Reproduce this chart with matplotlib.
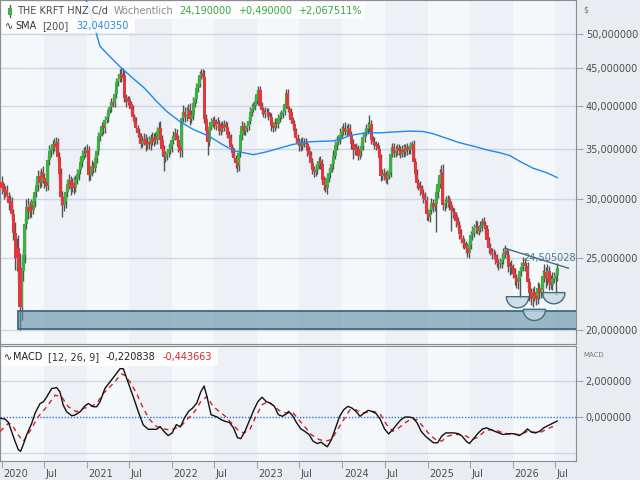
import numpy as np
import matplotlib
matplotlib.use("Agg")
import matplotlib.pyplot as plt
from matplotlib.patches import Rectangle, Wedge
import matplotlib.transforms as mtrans

plt.rcParams['font.family'] = ['DejaVu Sans']

# ---------------- data ----------------
start_date = '2020-01-03'          # date of first weekly candle (week index 0)
first_open = 31.6
closes = [
    31.0, 30.6, 30.8, 30.3, 29.6, 29.8, 28.6, 27.0, 25.0, 25.8,
    24.2, 21.5, 24.0, 25.2, 27.8, 29.3, 28.8, 29.4, 29.0, 29.8,
    30.6, 31.3, 32.2, 31.5, 32.6, 32.0, 31.6, 31.2, 33.8, 34.8,
    35.0, 35.6, 35.2, 35.8, 34.2, 32.4, 30.2, 29.4, 29.8, 30.6,
    31.4, 31.8, 31.0, 31.5, 31.0, 31.9, 32.4, 32.8, 33.6, 34.3,
    34.8, 34.6, 34.9, 32.3, 32.6, 33.2, 33.0, 34.0, 34.8, 36.4,
    36.8, 37.6, 37.3, 38.3, 38.6, 39.5, 39.8, 40.5, 40.3, 41.5,
    43.0, 43.5, 44.2, 43.6, 44.0, 41.0, 40.5, 40.8, 40.2, 39.6,
    38.6, 38.2, 37.3, 36.8, 36.4, 35.6, 35.9, 36.1, 35.4, 35.8,
    35.5, 36.2, 35.8, 36.3, 36.0, 37.0, 37.4, 36.0, 35.0, 34.2,
    34.3, 34.6, 35.0, 35.3, 36.0, 36.4, 36.8, 36.0, 35.2, 34.8,
    38.5, 39.2, 38.8, 39.0, 39.5, 38.4, 38.9, 40.3, 40.8, 42.3,
    42.8, 44.0, 44.3, 43.8, 38.4, 37.0, 35.8, 37.5, 38.0, 38.3,
    37.6, 38.0, 37.8, 37.0, 37.6, 37.4, 37.8, 37.5, 36.6, 36.2,
    35.2, 34.6, 34.0, 33.5, 33.2, 34.6, 36.5, 37.6, 37.0, 37.3,
    37.6, 38.2, 39.3, 39.6, 40.0, 40.6, 41.5, 42.0, 40.0, 39.5,
    39.0, 39.3, 39.2, 38.8, 38.6, 37.6, 37.4, 38.0, 37.8, 38.5,
    38.8, 39.0, 39.3, 40.2, 41.6, 39.6, 39.2, 38.3, 37.8, 37.0,
    36.2, 35.8, 35.6, 35.3, 35.8, 35.7, 35.5, 34.8, 34.4, 33.5,
    32.8, 32.6, 32.9, 33.3, 33.7, 33.4, 31.8, 31.3, 31.0, 32.0,
    32.5, 33.0, 33.4, 34.3, 35.4, 35.8, 36.0, 36.6, 37.0, 37.4,
    36.9, 37.2, 37.3, 36.6, 35.6, 34.9, 35.2, 35.0, 34.3, 34.8,
    35.3, 36.3, 36.8, 37.2, 37.3, 37.8, 36.0, 35.8, 35.5, 35.3,
    35.0, 34.0, 32.2, 32.5, 32.3, 31.9, 32.3, 32.6, 34.5, 35.2,
    34.6, 34.9, 35.1, 34.8, 34.5, 35.0, 34.7, 35.2, 34.9, 35.0,
    35.3, 35.5, 33.6, 32.4, 31.5, 31.2, 30.9, 30.5, 30.1, 29.9,
    28.6, 28.4, 29.0, 29.6, 29.3, 29.5, 30.6, 31.4, 32.3, 32.6,
    29.4, 29.6, 29.8, 30.0, 29.4, 29.0, 28.8, 28.5, 28.0, 27.7,
    26.9, 26.5, 26.2, 26.0, 25.8, 25.4, 26.0, 26.8, 27.0, 27.4,
    27.6, 27.2, 27.4, 27.6, 28.0, 27.7, 27.3, 26.4, 25.8, 25.5,
    25.3, 25.2, 24.9, 24.6, 24.5, 24.6, 24.8, 25.4, 25.5, 25.2,
    24.3, 24.4, 24.2, 23.8, 23.5, 23.2, 23.4, 24.0, 24.3, 24.6,
    24.4, 24.3, 23.2, 22.4, 22.0, 22.5, 22.2, 22.0, 22.8, 22.4,
    22.6, 23.6, 23.9, 23.4, 24.0, 23.1, 23.0, 23.4, 23.5, 23.70, 24.19,
]
wick_up = [
    0.6,0.5,0.4,0.5,0.3,0.6,0.4,0.5,0.9,0.8, 1.0,1.2,0.8,0.6,0.5,0.7,0.8,0.4,0.6,0.5,
    0.4,0.5,0.6,0.5,0.4,0.6,0.5,0.4,0.5,0.6, 0.5,0.4,0.6,0.5,0.4,0.5,0.6,0.5,0.7,0.4,
    0.5,0.6,0.4,0.5,0.6,0.4,0.5,0.4,0.5,0.6, 0.4,0.5,0.6,0.4,0.5,0.6,0.4,0.5,0.6,0.5,
    0.6,0.5,0.7,0.5,0.6,0.4,0.7,0.5,0.6,0.5, 0.6,0.7,0.6,0.8,1.0,0.6,0.5,0.4,0.5,0.4,
    0.5,0.4,0.5,0.4,0.6,0.4,0.5,0.7,0.6,0.5, 0.6,0.5,0.7,0.5,0.6,0.5,0.6,0.8,0.5,0.4,
    0.5,0.4,0.6,0.5,0.4,0.6,0.5,0.4,0.5,0.6, 0.7,0.9,0.6,0.8,0.7,0.9,0.6,0.8,0.7,0.6,
    0.8,0.6,0.5,0.5,0.9,0.6,0.5,0.6,0.5,0.4, 0.5,0.4,0.6,0.5,0.4,0.6,0.5,0.4,0.5,0.4,
    0.5,0.4,0.5,0.4,0.5,0.6,0.5,0.6,0.5,0.4, 0.5,0.6,0.5,0.6,0.5,0.6,0.5,0.5,0.6,0.5,
    0.4,0.5,0.4,0.5,0.4,0.5,0.4,0.5,0.4,0.5, 0.4,0.5,0.6,0.5,0.6,0.5,0.4,0.5,0.4,0.5,
    0.4,0.5,0.4,0.6,0.5,0.4,0.5,0.4,0.5,0.4, 0.5,0.4,0.5,0.4,0.5,0.6,0.5,0.4,0.5,0.4,
    0.5,0.4,0.5,0.6,0.5,0.6,0.5,0.7,0.6,0.5, 0.6,0.5,0.6,0.5,0.4,0.5,0.4,0.5,0.4,0.5,
    0.5,0.6,0.5,0.6,0.8,1.1,0.5,0.4,0.5,0.4, 0.5,0.4,0.5,0.4,0.5,0.4,0.5,0.4,0.6,0.5,
    0.5,0.4,0.5,0.4,0.5,0.4,0.5,0.4,0.5,0.4, 0.5,0.4,0.5,0.4,0.5,0.4,0.5,0.4,0.4,0.5,
    0.4,0.5,0.4,0.5,0.4,0.5,0.5,0.6,0.6,0.7, 0.8,0.4,0.5,0.4,0.3,0.4,0.3,0.4,0.3,0.4,
    0.3,0.4,0.3,0.4,0.3,0.4,0.5,0.4,0.6,0.4, 0.5,0.4,0.3,0.4,0.3,0.4,0.3,0.4,0.3,0.4,
    0.3,0.4,0.3,0.4,0.3,0.4,0.5,0.4,0.5,0.3, 0.4,0.3,0.4,0.3,0.4,0.3,0.4,0.3,0.4,0.5,
    0.4,0.3,0.4,0.3,0.4,0.3,0.4,0.3,0.4,0.3, 0.4,0.5,0.6,0.4,0.5,0.4,0.6,0.5,0.4,0.5,0.4,
]
wick_dn = [
    0.5,0.6,0.4,0.5,0.6,0.4,0.5,0.6,0.9,1.0, 1.1,1.5,0.9,0.7,0.6,0.5,0.6,0.5,0.6,0.4,
    0.5,0.4,0.6,0.5,0.4,0.5,0.6,0.5,0.4,0.5, 0.6,0.5,0.4,0.5,0.6,0.7,0.8,1.0,0.5,0.6,
    0.4,0.5,0.6,0.4,0.5,0.4,0.5,0.6,0.4,0.5, 0.4,0.5,0.4,0.6,0.5,0.4,0.5,0.4,0.5,0.4,
    0.5,0.4,0.6,0.5,0.4,0.5,0.4,0.6,0.5,0.4, 0.5,0.4,0.5,0.6,0.4,0.5,0.6,0.4,0.5,0.6,
    0.4,0.5,0.4,0.5,0.6,0.5,0.4,0.5,0.6,0.4, 0.5,0.6,0.4,0.5,0.4,0.5,0.4,0.5,0.6,1.5,
    0.6,0.5,0.4,0.5,0.6,0.5,0.4,0.6,0.5,0.7, 0.6,0.5,0.8,0.6,0.5,0.7,0.5,0.6,0.5,0.4,
    0.5,0.4,0.5,0.4,0.5,0.6,1.4,0.5,0.4,0.5, 0.4,0.5,0.4,0.5,0.4,0.5,0.4,0.5,0.4,0.5,
    0.4,0.5,0.4,0.5,0.6,0.5,0.4,0.5,0.4,0.5, 0.4,0.5,0.4,0.5,0.4,0.5,0.4,0.5,0.4,0.5,
    0.4,0.5,0.4,0.5,0.4,0.6,0.5,0.4,0.5,0.4, 0.5,0.4,0.5,0.4,0.5,0.4,0.5,0.4,0.5,0.4,
    0.5,0.4,0.8,0.5,0.4,0.5,0.4,0.5,0.4,0.5, 0.4,0.5,0.4,0.5,0.4,0.5,0.4,0.5,0.4,0.5,
    0.4,0.5,0.4,0.5,0.4,0.5,0.4,0.5,0.4,0.5, 0.4,0.5,0.4,0.5,0.6,1.0,0.5,0.4,0.5,0.4,
    0.5,0.4,0.5,0.4,0.5,0.4,0.5,0.4,0.5,0.4, 0.5,0.4,0.5,0.4,0.5,0.4,0.5,0.4,0.5,0.4,
    0.5,0.4,0.5,0.4,0.5,0.4,0.5,0.4,0.5,0.4, 0.5,0.4,0.5,0.4,0.5,0.4,0.5,0.4,0.5,0.4,
    0.5,0.4,0.5,0.4,0.5,0.4,2.4,0.5,0.4,0.5, 0.4,0.5,0.4,0.5,0.4,1.8,0.5,0.4,0.5,0.4,
    0.4,0.3,0.4,0.3,0.4,0.3,0.4,0.3,0.4,0.3, 0.4,0.3,0.4,0.3,0.4,0.3,0.4,0.3,0.4,0.3,
    0.4,0.3,0.4,0.3,0.4,0.3,0.4,0.3,0.4,0.3, 0.4,0.6,0.4,0.3,0.5,0.4,0.5,1.3,0.4,0.3,
    0.4,0.3,0.4,0.5,0.4,0.5,0.3,0.4,0.3,0.4, 0.3,0.5,0.4,0.6,0.4,0.5,0.3,0.4,0.3,1.2,0.4,
]

sma_wk = [51, 56, 60, 66, 73, 80, 87, 95, 101, 109, 117, 127, 134, 142, 148, 154, 162, 170,
          178, 189, 203, 209, 213, 223, 232, 240, 250, 258, 264, 272, 280, 289, 297, 305,
          311, 317, 325, 334, 340]
sma_val = [56.0, 51.6, 48.1, 46.6, 45.0, 43.6, 42.3, 40.5, 39.3, 38.1, 37.2, 36.4, 35.6,
           34.8, 34.6, 34.4, 34.7, 35.1, 35.5, 35.8, 35.9, 36.2, 36.5, 36.8, 36.8, 36.9,
           37.0, 36.95, 36.7, 36.2, 35.7, 35.3, 34.9, 34.6, 34.3, 33.7, 33.0, 32.5, 32.04]

macd_wk = [-1.2, 1.8, 3.9, 5.9, 8, 10, 11.4, 13, 15.1, 18.2, 20.2, 23.3, 25.3, 27.4, 30.4,
           33.5, 35.5, 37.5, 39.6, 42.7, 44.7, 47.8, 50.8, 52.9, 55.9, 58, 60, 63, 66.1,
           69.2, 72.3, 74.3, 76.4, 80.4, 83.5, 86.5, 89.6, 94.7, 96.8, 99.25, 101.75,
           104.25, 106.75, 109.25, 111.75, 114.25, 116.75, 119.25, 121.75, 123.75, 125.5,
           128, 131.75, 134.25, 136.75, 139.25, 141.75, 144.25, 146.25, 148.75, 151.75,
           154.25, 156.75, 159.25, 161.75, 164.25, 166.75, 169.25, 171.75, 174.25, 175.5,
           178, 180.5, 183, 185.5, 188, 190.5, 193, 195.5, 198, 199.25, 201.75, 204.25,
           206.75, 209.25, 211.75, 214.25, 216.75, 219.25, 221.75, 224.25, 226.75, 229.25,
           231.75, 234.25, 236.75, 239.25, 241.75, 244.25, 246.75, 249.25, 251.75, 254.25,
           256.75, 259.25, 261.75, 264.25, 266.75, 269.25, 271.75, 274.25, 276.75, 279.25,
           281.75, 284.25, 286.25, 289.25, 291.75, 294.25, 296.75, 299.25, 301.75, 304.25,
           306.75, 309.25, 311.75, 314.25, 316.75, 319.25, 321.75, 324.25, 326.75, 329.25,
           331.75, 334.25, 336.75, 340]
macd_val = [-0.07, -0.11, -0.29, -0.8, -1.35, -1.81, -1.9, -1.54, -0.99, -0.35, 0.2, 0.75,
            0.84, 1.12, 1.58, 1.63, 1.39, 0.66, 0.29, 0.07, 0.11, 0.29, 0.62, 0.75, 0.57,
            0.57, 0.84, 1.58, 1.94, 2.31, 2.68, 2.68, 2.13, 1.12, 0.29, -0.44, -0.68, -0.68,
            -0.53, -0.8, -1.03, -0.88, -0.42, -0.55, -0.05, 0.31, 0.5, 0.77, 1.4, 1.72, 1.14,
            0.13, 0.0, -0.15, -0.24, -0.3, -0.6, -1.15, -1.2, -0.8, -0.15, 0.4, 0.86, 1.1,
            0.86, 0.77, 0.6, 0.13, 0.04, 0.18, 0.31, 0.07, -0.33, -0.66, -0.8, -0.97, -1.34,
            -1.47, -1.4, -1.58, -1.65, -1.25, -0.6, 0.04, 0.4, 0.59, 0.5, 0.31, 0.04, 0.22,
            0.37, 0.31, 0.18, -0.15, -0.66, -0.94, -0.7, -0.42, -0.15, 0.0, 0.0, -0.05, -0.33,
            -0.8, -1.06, -1.25, -1.43, -1.43, -1.06, -0.88, -0.88, -0.88, -0.92, -1.06, -1.34,
            -1.47, -1.15, -0.88, -0.66, -0.6, -0.7, -0.79, -0.88, -0.97, -0.94, -0.92, -0.94,
            -1.03, -0.88, -0.66, -0.84, -0.88, -0.79, -0.6, -0.48, -0.37, -0.2208]

sig_wk = [-1.2, 3.9, 5.9, 10, 13, 15.1, 18.2, 22.2, 27.4, 32.5, 36.5, 40.6, 45.7, 49.8, 54,
          58, 62, 68, 73.3, 75.3, 78.4, 82.5, 86.5, 90.6, 94.7, 99.25, 103, 106.75, 110.5,
          114.25, 118, 121.75, 125.5, 129.25, 133, 136.75, 140.5, 144.25, 148, 151.75,
          155.5, 159.25, 163, 166.75, 170.5, 174.25, 178, 181.75, 185.5, 189.25, 194.25,
          198, 201.75, 205.5, 209.25, 213, 216.75, 220.5, 224.25, 228, 231.75, 235.5,
          239.25, 243, 246.75, 250.5, 254.25, 258, 261.75, 265.5, 269.25, 273, 276.75,
          280.5, 284.25, 288, 291.75, 295.5, 299.25, 303, 306.75, 310.5, 314.25, 318,
          321.75, 325.5, 329.25, 333, 336.75, 340]
sig_val = [-0.8, -0.35, -0.4, -1.0, -1.35, -1.08, -0.62, 0.02, 0.57, 1.21, 1.12, 0.57, 0.29,
           0.48, 0.57, 0.75, 1.3, 1.85, 2.4, 2.3, 1.94, 1.3, 0.48, -0.16, -0.53, -0.66,
           -0.73, -0.6, -0.42, -0.05, 0.31, 0.86, 1.14, 0.59, 0.31, 0.04, -0.33, -0.7,
           -0.88, -0.7, 0.04, 0.68, 0.86, 0.59, 0.31, 0.22, 0.26, -0.15, -0.55, -0.97,
           -1.25, -1.34, -1.25, -0.7, -0.15, 0.4, 0.4, 0.22, 0.26, 0.31, 0.13, -0.42,
           -0.79, -0.6, -0.33, -0.11, -0.15, -0.55, -0.97, -1.25, -1.34, -1.06, -0.97,
           -0.97, -1.06, -1.25, -1.1, -0.79, -0.7, -0.75, -0.88, -0.94, -0.97, -0.97,
           -0.79, -0.84, -0.88, -0.7, -0.55, -0.4437]

price_ticks = [20, 25, 30, 35, 40, 45, 50]
macd_ticks = [0, 2]
support_box = (20.04, 21.21)      # price range of the support rectangle
support_box_start_wk = 9.8
trend_wk = [308, 346.8]
trend_val = [25.75, 24.21]
trend_label = '24,505028'
bowl_wk = [315.7, 326.0, 337.9]
bowl_val = [22.17, 21.32, 22.45]

# ---------------- figure ----------------
W, H = 640, 480
fig = plt.figure(figsize=(6.4, 4.8), dpi=100, facecolor='#e9edf2')


def fx(px):
    return px / W


def fy(py):
    return 1 - py / H


ax = fig.add_axes([0, fy(344), fx(576), 344 / H])
axm = fig.add_axes([0, fy(461), fx(576), (461 - 346) / H])

n = min(len(closes), len(wick_up), len(wick_dn))
c = np.array(closes[:n])
o = np.r_[first_open, c[:-1]]
wk = np.arange(n)
hi = np.maximum(o, c) + np.array(wick_up[:n])
lo = np.minimum(o, c) - np.array(wick_dn[:n])

t0 = np.datetime64(start_date)


def week_of(d):
    return (np.datetime64(d) - t0).astype(int) / 7.0


xmin, xmax = -1.22, 351.5
light_bg, dark_bg = '#f5f8fb', '#edf1f6'
for a in (ax, axm):
    a.set_facecolor(light_bg)
    a.set_xlim(xmin, xmax)
    for yr in range(2019, 2027):
        a.axvspan(week_of(f'{yr}-07-01'), week_of(f'{yr + 1}-01-01'),
                  color=dark_bg, lw=0, zorder=0)
    for s in ('left', 'right', 'top', 'bottom'):
        a.spines[s].set_color('#8c8c8c')
    a.spines['left'].set_linewidth(1.5)

# ---- price panel ----
ax.set_yscale('log')
ax.set_ylim(19.15, 55.5)
for v in price_ticks:
    ax.axhline(v, color='#cdd5e7', lw=1, zorder=0.5)

up = c >= o
body_lo = np.minimum(o, c)
body_h = np.maximum(np.abs(c - o), 0.1)
ax.vlines(wk, lo, hi, color='#555555', lw=1.0, zorder=2)
ax.bar(wk[up], body_h[up], bottom=body_lo[up], width=1.9, color='#3cb043', lw=0, zorder=3)
ax.bar(wk[~up], body_h[~up], bottom=body_lo[~up], width=1.9, color='#e3373d', lw=0, zorder=3)

ax.plot(sma_wk, sma_val, color='#1e88ee', lw=1, zorder=4)

ax.add_patch(Rectangle((support_box_start_wk, support_box[0]), xmax + 10 - support_box_start_wk,
                       support_box[1] - support_box[0], facecolor=(0.36, 0.55, 0.64, 0.6),
                       edgecolor='#3e6a7e', lw=1.3, zorder=5))
ax.plot(trend_wk, trend_val, color='#3e6f82', lw=1, zorder=5)
ax.text(319, 25.0, trend_label, color='#557890', fontsize=7, va='center', ha='left', zorder=1.5)

for bw, bv in zip(bowl_wk, bowl_val):
    tr = fig.dpi_scale_trans + mtrans.ScaledTranslation(bw, bv, ax.transData)
    ax.add_patch(Wedge((0, 0), 0.112, 180, 360, transform=tr, facecolor=(0.78, 0.84, 0.88, 0.75),
                       edgecolor='#3d6f83', lw=1, zorder=5))

ax.yaxis.tick_right()
ax.set_yticks(price_ticks)
ax.yaxis.set_minor_locator(matplotlib.ticker.NullLocator())
ax.set_yticklabels([f'{v:.6f}'.replace('.', ',') for v in price_ticks])
ax.tick_params(axis='y', length=5, color='#9aa5b5', labelsize=7, labelcolor='#4d4d4d', pad=2)
ax.set_xticks([])

# ---- MACD panel ----
axm.set_ylim(-2.44, 3.94)
axm.axhline(2, color='#cdd5e7', lw=1, zorder=0.5)
axm.axhline(-2, color='#cdd5e7', lw=1, zorder=0.5)
axm.axhline(0, color='#2a73e0', lw=1, ls=(0, (1, 1.2)), zorder=0.6)
axm.plot(sig_wk, sig_val, color='#d42020', lw=1, ls=(0, (3.5, 3)), zorder=3)
axm.plot(macd_wk, macd_val, color='#111111', lw=1, zorder=4)
axm.yaxis.tick_right()
axm.set_yticks(macd_ticks)
axm.set_yticklabels([f'{v:.6f}'.replace('.', ',') for v in macd_ticks])
axm.tick_params(axis='y', length=5, color='#9aa5b5', labelsize=7, labelcolor='#4d4d4d', pad=2)

xt, xl = [], []
for yr in range(2020, 2027):
    xt += [week_of(f'{yr}-01-01'), week_of(f'{yr}-07-01')]
    xl += [str(yr), 'Jul']
axm.set_xticks(xt)
axm.set_xticklabels(xl)
axm.tick_params(axis='x', length=5, color='#9aa5b5', labelsize=7, labelcolor='#4d4d4d', pad=1)
off = mtrans.ScaledTranslation(1.5 / 100, 0, fig.dpi_scale_trans)
for lab in axm.get_xticklabels():
    lab.set_ha('left')
    lab.set_transform(lab.get_transform() + off)

fig.text(fx(583), fy(10), '$', fontsize=5.5, color='#777777', va='center', ha='left')
fig.text(fx(583), fy(355), 'MACD', fontsize=5, color='#777777', va='center', ha='left')

# ---- legends ----
renderer = fig.canvas.get_renderer()


def seq_text(x_px, y_px, pieces, fs=7):
    x = x_px
    for s, col, gap in pieces:
        t = fig.text(fx(x), fy(y_px), s, color=col, fontsize=fs, va='center', ha='left', zorder=6)
        bb = t.get_window_extent(renderer)
        x = bb.x1 + gap
    return x


def box(x0, y0, x1, y1):
    fig.add_artist(Rectangle((fx(x0), fy(y1)), fx(x1) - fx(x0), fy(y0) - fy(y1),
                             transform=fig.transFigure, facecolor='white', alpha=0.85,
                             lw=0, zorder=2))


box(2, 2, 365, 19)
box(2, 19, 135, 33)
box(2, 348, 218, 366)
# candle icon
fig.add_artist(plt.Line2D([fx(9.5), fx(9.5)], [fy(5), fy(17)], transform=fig.transFigure,
                          color='#5a5a5a', lw=1, zorder=3))
fig.add_artist(Rectangle((fx(7.5), fy(14.5)), fx(4), fy(8) - fy(14.5), transform=fig.transFigure,
                         facecolor='#3fb049', lw=0, zorder=4))

seq_text(17, 11, [('THE KRFT HNZ C/d', '#4a4a4a', 6), ('Wöchentlich', '#8a8a8a', 6),
                  ('24,190000', '#3aa63e', 6), ('+0,490000', '#3aa63e', 6),
                  ('+2,067511%', '#3aa63e', 0)])
seq_text(5, 26, [('∿', '#222222', 2), ('SMA', '#333333', 6), ('[200]', '#4a4a4a', 8),
                 ('32,040350', '#2b8be6', 0)])
seq_text(4, 357, [('∿', '#222222', 1), ('MACD', '#222222', 6), ('[12, 26, 9]', '#333333', 6),
                  ('-0,220838', '#222222', 7), ('-0,443663', '#d42a2a', 0)])

fig.savefig('out.png', dpi=100, facecolor=fig.get_facecolor())
